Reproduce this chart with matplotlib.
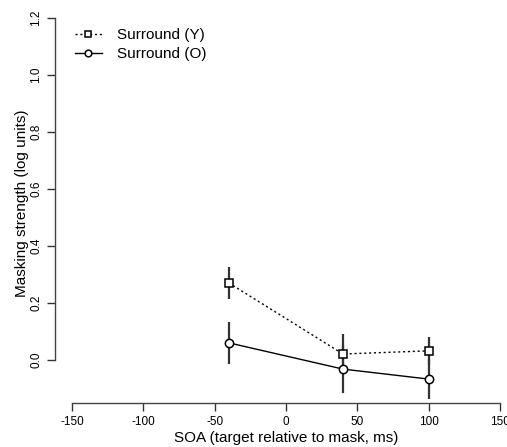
import numpy as np
import matplotlib.pyplot as plt

plt.rcParams['font.family'] = ['Liberation Sans', 'DejaVu Sans']

# data
soa = [-40, 40, 100]
young = [0.27, 0.021, 0.032]
young_err = [0.057, 0.07, 0.05]
old = [0.06, -0.032, -0.067]
old_err = [0.075, 0.084, 0.07]

xticks = [-150, -100, -50, 0, 50, 100, 150]
yticks = [0.0, 0.2, 0.4, 0.6, 0.8, 1.0, 1.2]

fig = plt.figure(figsize=(5.07, 4.47), dpi=100)
ax = fig.add_axes([0.1085, 0.0978, 0.911, 0.895])

ax.errorbar(soa, young, yerr=young_err, fmt='none', ecolor='#333333', elinewidth=1.6, capsize=0)
ax.errorbar(soa, old, yerr=old_err, fmt='none', ecolor='#333333', elinewidth=1.6, capsize=0)
ax.plot(soa, young, color='black', lw=1, ls=(0, (1.5, 2)), marker='s', ms=5.2,
        mfc='white', mec='black', mew=1.1, label='Surround (Y)')
ax.plot(soa, old, color='black', lw=1, ls='-', marker='o', ms=6,
        mfc='white', mec='black', mew=1.1, label='Surround (O)')

ax.set_xlim(-162, 162)
ax.set_ylim(-0.152, 1.252)
ax.set_xticks(xticks)
ax.set_xticklabels([str(t) for t in xticks])
ax.set_yticks(yticks)
ax.set_yticklabels([f'{t:.1f}' for t in yticks], rotation=90, va='center')
ax.tick_params(direction='out', length=6, width=1, labelsize=8.5, pad=3, colors='#333333',
               labelcolor='black')

for s in ['top', 'right']:
    ax.spines[s].set_visible(False)
ax.spines['bottom'].set_bounds(-150, 150)
ax.spines['left'].set_bounds(0, 1.2)
for s in ['bottom', 'left']:
    ax.spines[s].set_color('#444444')
    ax.spines[s].set_linewidth(1)

ax.set_xlabel('SOA (target relative to mask, ms)', fontsize=11, labelpad=2)
ax.set_ylabel('Masking strength (log units)', fontsize=11, labelpad=1)

ax.legend(loc='upper left', bbox_to_anchor=(0.135, 0.95), bbox_transform=fig.transFigure,
          frameon=False, fontsize=11, handlelength=1.8, handletextpad=1.0,
          labelspacing=0.3, borderaxespad=0, markerscale=0.8)

fig.savefig('out.png', dpi=100)
